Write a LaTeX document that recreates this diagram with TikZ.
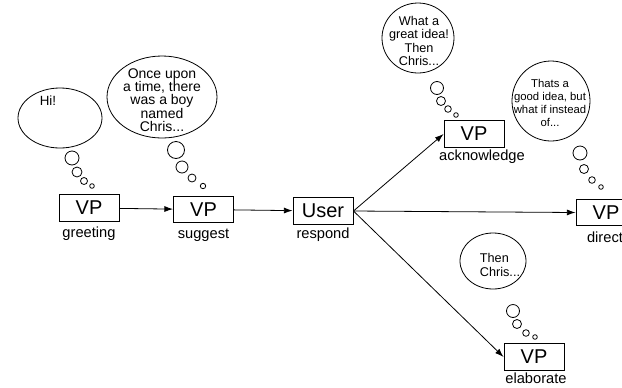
\documentclass[tikz,border=0pt]{standalone}
\usepackage{fontspec}
\setmainfont{Liberation Sans}
\usepackage{tikz}
\usetikzlibrary{arrows.meta}

\begin{document}
\begin{tikzpicture}[x=0.75pt,y=0.75pt,yscale=-1,xscale=1,
  vpbox/.style={draw,line width=0.7pt,minimum width=45pt,minimum height=20pt,inner sep=0.75pt,font=\fontsize{15}{15}\selectfont},
  tag/.style={inner sep=0.75pt,font=\fontsize{11}{12}\selectfont},
  saying/.style={inner sep=0.75pt,align=center,font=\fontsize{10}{10}\selectfont},
  flow/.style={line width=0.6pt,-{Latex[length=6.5pt,width=4.5pt]}},
  puff/.style={line width=0.6pt}]
\useasboundingbox (0,0) rectangle (622,387);

%Shape: Rectangle
\draw (89,208) node [vpbox] (greet) {VP};
\draw (203.5,209.5) node [vpbox] (suggest) {VP};
\draw (323,211) node [vpbox] (user) {User};
\draw (474,134) node [vpbox] (ack) {VP};
\draw (606,212.5) node [vpbox] (direct) {VP};
\draw (534,357) node [vpbox] (elab) {VP};

% Text Node
\draw (89,234) node [tag] (greetLbl) {greeting};
\draw (203.5,235) node [tag] (suggestLbl) {suggest};
\draw (323,235) node [tag] (userLbl) {respond};
\draw (482,157) node [tag] (ackLbl) {acknowledge};
\draw (605,237) node [tag] (directLbl) {direct};
\draw (536,378.5) node [tag] (elabLbl) {elaborate};

%Shape: Ellipse -- greeting
\draw [puff] (60,118) ellipse (42 and 30);
\draw [puff] (72,158) circle (7);
\draw [puff] (77,172) circle (5);
\draw [puff] (84,181) circle (3.5);
\draw [puff] (92,186) circle (2.3);
\draw (48,101) node [saying] (hiTxt) {Hi!};

%Shape: Ellipse -- suggest
\draw [puff] (162,97) ellipse (55 and 41);
\draw [puff] (176,150) circle (8.5);
\draw [puff] (182,167) circle (6);
\draw [puff] (192,178) circle (4);
\draw [puff] (203,186) circle (2.7);
\draw (162,100) node [saying,font=\fontsize{10.5}{10}\selectfont] (onceTxt) {Once upon\\a time, there\\was a boy\\named\\Chris...};

%Shape: Ellipse -- acknowledge
\draw [puff] (418,38) ellipse (36 and 35);
\draw [puff] (437,88) circle (6.5);
\draw [puff] (441,101) circle (4.5);
\draw [puff] (448,109) circle (3.3);
\draw [puff] (456,115) circle (2.3);
\draw (419,41) node [saying,font=\fontsize{9.5}{10}\selectfont] (greatTxt) {What a\\great idea!\\Then\\Chris...};

%Shape: Ellipse -- direct
\draw [puff] (551,101) ellipse (39 and 40);
\draw [puff] (580,153) circle (7);
\draw [puff] (584,169) circle (4.5);
\draw [puff] (592,180) circle (3.3);
\draw [puff] (601,187) circle (2.3);
\draw (550,103) node [saying,font=\fontsize{8.5}{9.6}\selectfont] (insteadTxt) {Thats a\\good idea, but\\what if instead\\of...};

%Shape: Ellipse -- elaborate
\draw [puff] (493,261) ellipse (33 and 28);
\draw [puff] (513,311) circle (6.5);
\draw [puff] (517,324) circle (4.5);
\draw [puff] (526,333) circle (3.3);
\draw [puff] (535,337) circle (2.3);
\draw (500,265) node [saying,align=left,font=\fontsize{9.5}{10}\selectfont] (thenTxt) {Then\\Chris...};

%Straight Lines
\draw [flow] (greet) -- (suggest);
\draw [flow] (suggest) -- (user);
\draw [flow] (user.east) -- (ack.west);
\draw [flow] (user.east) -- (direct.west);
\draw [flow] (user.east) -- (elab.west);

\end{tikzpicture}
\end{document}
